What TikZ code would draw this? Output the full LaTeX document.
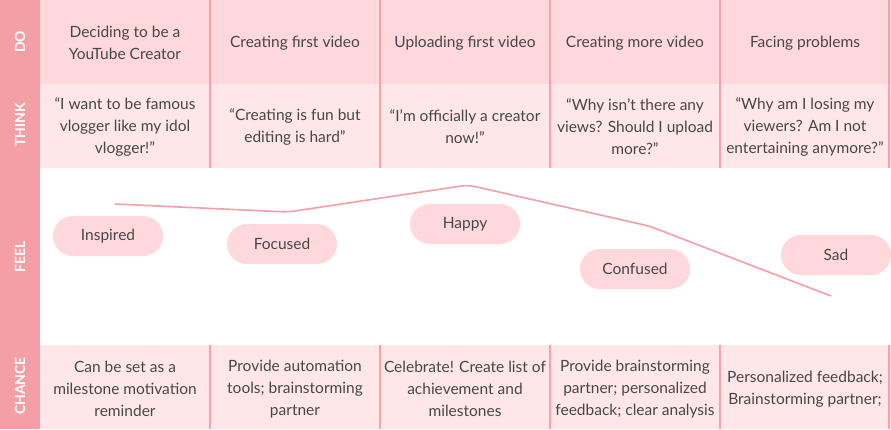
\documentclass[tikz,border=0pt]{standalone}
\usepackage{fontspec}
\setmainfont{Lato}
\definecolor{side}{HTML}{F49EA5}
\definecolor{dofill}{HTML}{FFD8DC}
\definecolor{thinkfill}{HTML}{FFE6E8}
\definecolor{divider}{HTML}{F4A3A9}
\definecolor{txt}{HTML}{474747}
\definecolor{pillfill}{HTML}{FFD8DC}
\begin{document}
\begin{tikzpicture}[x=1pt,y=-1pt,
  cell/.style={align=center,text=txt,font=\fontsize{15.5}{22}\selectfont,inner sep=0pt},
  rowlabel/.style={rotate=90,text=white,font=\fontsize{14}{16}\selectfont\bfseries,inner sep=0pt},
  pill/.style={rounded corners=20pt,fill=pillfill,minimum width=110pt,minimum height=40pt,text=txt,font=\fontsize{15.5}{18}\selectfont,inner sep=0pt},
  divline/.style={draw=divider,line width=1.6pt},
  feelline/.style={draw=side,line width=1.6pt,rounded corners=6pt}]
\useasboundingbox (0,0) rectangle (891,429);
% backgrounds
\fill[side] (0,0) rectangle (40,429);
\fill[dofill] (40,0) rectangle (891,84);
\fill[thinkfill] (40,84) rectangle (891,168);
\fill[white] (40,168) rectangle (891,345);
\fill[thinkfill] (40,345) rectangle (891,429);
% dividers
\foreach \x in {210,380,550,720,889}{
  \draw[divline] (\x,0) -- (\x,168);
  \draw[divline] (\x,345) -- (\x,429);
}
% row labels
\node[rowlabel] (lDO) at (20,42) {DO};
\node[rowlabel] (lTHINK) at (20,125) {THINK};
\node[rowlabel] (lFEEL) at (20,257) {FEEL};
\node[rowlabel] (lCHANCE) at (20,386) {CHANCE};
% DO row
\node[cell] (do1) at (125,43) {Deciding to be a\\YouTube Creator};
\node[cell] (do2) at (295,43) {Creating first video};
\node[cell] (do3) at (465,43) {Uploading first video};
\node[cell] (do4) at (635,43) {Creating more video};
\node[cell] (do5) at (805,43) {Facing problems};
% THINK row
\node[cell] (th1) at (125,127) {“I want to be famous\\vlogger like my idol\\vlogger!”};
\node[cell] (th2) at (295,127) {“Creating is fun but\\editing is hard”};
\node[cell] (th3) at (465,127) {“I’m officially a creator\\now!”};
\node[cell] (th4) at (635,127) {“Why isn’t there any\\views? Should I upload\\more?”};
\node[cell] (th5) at (805,127) {“Why am I losing my\\viewers? Am I not\\entertaining anymore?”};
% CHANCE row
\node[cell] (ch1) at (125,389) {Can be set as a\\milestone motivation\\reminder};
\node[cell] (ch2) at (295,389) {Provide automation\\tools; brainstorming\\partner};
\node[cell] (ch3) at (465,389) {Celebrate! Create list of\\achievement and\\milestones};
\node[cell] (ch4) at (635,389) {Provide brainstorming\\partner; personalized\\feedback; clear analysis};
\node[cell] (ch5) at (805,389) {Personalized feedback;\\Brainstorming partner;};
% feel curve
\coordinate (f1) at (115,204);
\coordinate (f2) at (288,212);
\coordinate (f3) at (468,185);
\coordinate (f4) at (649,226);
\coordinate (f5) at (831,296);
\draw[feelline] (f1) -- (f2) -- (f3) -- (f4) -- (f5);
% pills
\node[pill] (inspired) at (108,236) {Inspired};
\node[pill] (focused) at (282,244) {Focused};
\node[pill] (happy) at (465,224) {Happy};
\node[pill] (confused) at (635,269) {Confused};
\node[pill] (sad) at (836,255) {Sad};
\end{tikzpicture}
\end{document}
